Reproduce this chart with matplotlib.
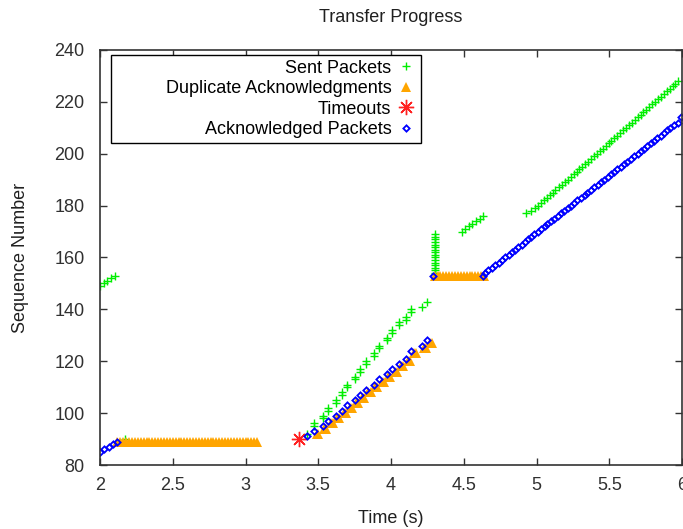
import matplotlib
matplotlib.use('Agg')
import matplotlib.pyplot as plt

plt.rcParams['font.family'] = ['Liberation Sans', 'DejaVu Sans']

# --- Sent packets (green +) ---
sent_t = [2.00, 2.025, 2.05, 2.075, 2.10, 2.17,
          3.42, 3.47, 3.47, 3.53, 3.53, 3.57, 3.57, 3.62, 3.62, 3.66, 3.66,
          3.70, 3.70, 3.75, 3.75, 3.79, 3.79, 3.83, 3.83, 3.88, 3.88,
          3.92, 3.92, 3.97, 3.97, 4.01, 4.01, 4.055, 4.055, 4.10, 4.10,
          4.14, 4.14, 4.21, 4.25,
          4.30, 4.30, 4.30, 4.30, 4.30, 4.30, 4.30, 4.30,
          4.30, 4.30, 4.30, 4.30, 4.30, 4.30, 4.30, 4.30,
          4.49, 4.51, 4.535, 4.56, 4.585, 4.61, 4.63,
          4.93, 4.965, 4.99, 5.01, 5.03, 5.05, 5.07, 5.09, 5.11, 5.13,
          5.155, 5.175, 5.195, 5.215, 5.235, 5.255, 5.275, 5.295, 5.315, 5.335,
          5.355, 5.375, 5.395, 5.415, 5.435, 5.455, 5.475, 5.495, 5.515, 5.535,
          5.555, 5.575, 5.595, 5.615, 5.635, 5.655, 5.675, 5.695, 5.715, 5.735,
          5.755, 5.775, 5.795, 5.815, 5.835, 5.855, 5.875, 5.895, 5.915, 5.935,
          5.955, 5.975]
sent_seq = [149, 150, 151, 152, 153, 90,
            92, 95, 96, 98, 99, 101, 102, 104, 105, 107, 108,
            110, 111, 113, 114, 116, 117, 119, 120, 122, 123,
            125, 126, 128, 129, 131, 132, 134, 135, 136, 137,
            139, 140, 141, 143,
            154, 155, 156, 157, 158, 159, 160, 161,
            162, 163, 164, 165, 166, 167, 168, 169,
            170, 171, 172, 173, 174, 175, 176,
            177, 178, 179, 180, 181, 182, 183, 184, 185, 186,
            187, 188, 189, 190, 191, 192, 193, 194, 195, 196,
            197, 198, 199, 200, 201, 202, 203, 204, 205, 206,
            207, 208, 209, 210, 211, 212, 213, 214, 215, 216,
            217, 218, 219, 220, 221, 222, 223, 224, 225, 226,
            227, 228]

# --- Duplicate acknowledgments (orange triangles) ---
dup_t = [2.12, 2.14, 2.16, 2.18, 2.20, 2.22, 2.24, 2.26, 2.28, 2.30,
         2.32, 2.34, 2.36, 2.38, 2.40, 2.42, 2.44, 2.46, 2.48, 2.50,
         2.52, 2.54, 2.56, 2.58, 2.60, 2.62, 2.64, 2.66, 2.68, 2.70,
         2.72, 2.74, 2.76, 2.78, 2.80, 2.82, 2.84, 2.86, 2.88, 2.90,
         2.92, 2.94, 2.96, 2.98, 3.00, 3.02, 3.04, 3.06, 3.08,
         3.49, 3.50, 3.54, 3.555, 3.585, 3.60, 3.63, 3.645, 3.675, 3.69,
         3.715, 3.73, 3.76, 3.775, 3.80, 3.815, 3.845, 3.86, 3.89, 3.905,
         3.935, 3.95, 3.98, 3.995, 4.025, 4.04, 4.07, 4.085, 4.115, 4.13,
         4.155, 4.17, 4.225, 4.24, 4.265, 4.28,
         4.30, 4.32, 4.34, 4.36, 4.38, 4.40, 4.42, 4.44, 4.46, 4.48,
         4.50, 4.52, 4.54, 4.56, 4.58, 4.60, 4.62, 4.64]
dup_seq = [89] * 49 + \
          [92, 92, 94, 94, 96, 96, 98, 98, 100, 100,
           102, 102, 104, 104, 106, 106, 108, 108, 110, 110,
           112, 112, 114, 114, 116, 116, 118, 118, 120, 120,
           123, 123, 125, 125, 127, 127] + [153] * 18

# --- Timeouts (red star) ---
timeout_t = [3.37]
timeout_seq = [90]

# --- Acknowledged packets (blue diamonds) ---
ack_t = [2.00, 2.03, 2.06, 2.09, 2.115,
         3.42, 3.47, 3.53, 3.57, 3.62, 3.66, 3.70, 3.75, 3.79, 3.83,
         3.88, 3.92, 3.97, 4.01, 4.055, 4.10, 4.14, 4.21, 4.25, 4.29,
         4.63, 4.645, 4.67, 4.695, 4.715, 4.74, 4.76, 4.785, 4.81, 4.83,
         4.855, 4.875, 4.90, 4.92, 4.945, 4.965, 4.98, 5.01, 5.03, 5.055,
         5.075, 5.10, 5.12, 5.145, 5.17, 5.19, 5.215, 5.235, 5.26, 5.28,
         5.305, 5.33, 5.35, 5.375, 5.395, 5.42, 5.44, 5.465, 5.49, 5.51,
         5.535, 5.555, 5.58, 5.60, 5.625, 5.65, 5.67, 5.695, 5.715, 5.74,
         5.76, 5.785, 5.81, 5.83, 5.855, 5.875, 5.90, 5.92, 5.945, 5.97, 5.99]
ack_seq = [85, 86, 87, 88, 89,
           91, 93, 95, 97, 99, 101, 103, 105, 107, 109,
           111, 113, 115, 117, 119, 121, 124, 126, 128, 153,
           153, 154, 155, 156, 157, 158, 159, 160, 161, 162,
           163, 164, 165, 166, 167, 168, 169, 170, 171, 172,
           173, 174, 175, 176, 177, 178, 179, 180, 181, 182,
           183, 184, 185, 186, 187, 188, 189, 190, 191, 192,
           193, 194, 195, 196, 197, 198, 199, 200, 201, 202,
           203, 204, 205, 206, 207, 208, 209, 210, 211, 212, 214]

xticks = [2, 2.5, 3, 3.5, 4, 4.5, 5, 5.5, 6]
xticklabels = ['2', '2.5', '3', '3.5', '4', '4.5', '5', '5.5', '6']
yticks = [80, 100, 120, 140, 160, 180, 200, 220, 240]

fs = 13

fig = plt.figure(figsize=(6.83, 5.29), dpi=100)
ax = fig.add_axes([100 / 683, 64 / 529, 582 / 683, 415 / 529])

ax.plot(sent_t, sent_seq, linestyle='none', marker='+', color='#00ee00',
        markersize=6, mew=1.0, label='Sent Packets')
ax.plot(dup_t, dup_seq, linestyle='none', marker='^', color='#ffa500',
        markersize=7, mew=0, label=' ' * 10 + 'Duplicate Acknowledgments')
ax.plot(timeout_t, timeout_seq, linestyle='none', marker=(8, 2, 0), color='#ff2020',
        markersize=11, mew=1.0, label='Timeouts')
ax.plot(ack_t, ack_seq, linestyle='none', marker='D', color='#0000ff',
        markerfacecolor='none', markersize=3.2, mew=1.3, label='Acknowledged Packets')

ax.set_xlim(2, 6)
ax.set_ylim(80, 240)
ax.set_xticks(xticks)
ax.set_xticklabels(xticklabels)
ax.set_yticks(yticks)

ax.tick_params(direction='in', length=5, width=1, top=True, right=True,
               labelsize=fs, labelcolor='#303030', color='#333333')
ax.tick_params(axis='y', pad=11)
ax.tick_params(axis='x', pad=9)
for s in ax.spines.values():
    s.set_color('#333333')
    s.set_linewidth(1.2)

ax.set_title('Transfer Progress', fontsize=fs, color='#202020', pad=20)
ax.set_xlabel('Time (s)', fontsize=fs, color='#202020', labelpad=11)
ax.set_ylabel('Sequence Number', fontsize=fs, color='#202020', labelpad=18)

leg = ax.legend(loc='upper left', bbox_to_anchor=(11 / 582, 1 - 5 / 415),
                borderaxespad=0, markerfirst=False, numpoints=1,
                fancybox=False, edgecolor='black', framealpha=1,
                fontsize=fs, labelspacing=0.2, handlelength=1.17,
                handletextpad=0.25, borderpad=0.25)
leg.get_frame().set_linewidth(1.0)

fig.savefig('out.png', dpi=100)
